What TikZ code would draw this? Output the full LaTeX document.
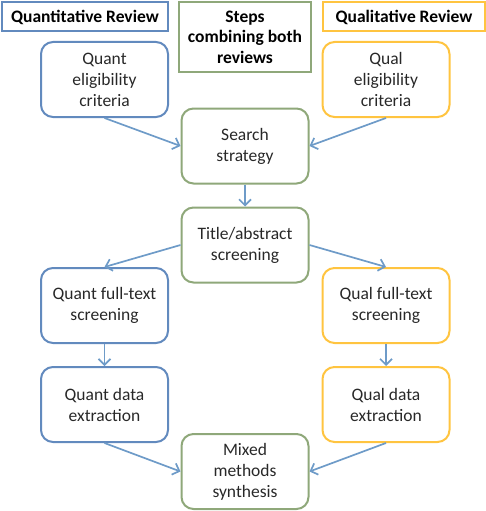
\documentclass[tikz,border=0pt]{standalone}
\usepackage{fontspec}
\setmainfont{Carlito}
\usetikzlibrary{arrows.meta}
\definecolor{qblue}{RGB}{98,138,190}
\definecolor{qgreen}{RGB}{143,168,122}
\definecolor{qgold}{RGB}{255,196,64}
\definecolor{qarrow}{RGB}{110,155,200}
\definecolor{qtext}{RGB}{40,40,40}
\tikzset{
  box/.style={draw, line width=2pt, rounded corners=12pt, minimum width=127pt, minimum height=75pt, align=center, text=qtext, font=\fontsize{17.5}{21}\selectfont, inner sep=1pt},
  hdr/.style={draw, line width=2pt, align=center, font=\fontsize{17.5}{20.5}\selectfont\bfseries, text=black, inner sep=1pt},
  conn/.style={draw=qarrow, line width=1.7pt, -{Straight Barb[length=6pt,width=12pt,line width=1.7pt]}}
}
\begin{document}
\begin{tikzpicture}[x=1pt,y=-1pt]
\useasboundingbox (0,0) rectangle (485,511);
\node[hdr, draw=qblue, minimum width=166pt, minimum height=29pt] (hq) at (85,17) {Quantitative Review};
\node[hdr, draw=qgreen, minimum width=132pt, minimum height=70pt] (hs) at (245,37) {Steps\\combining both\\reviews};
\node[hdr, draw=qgold, minimum width=162pt, minimum height=29pt] (hl) at (404,17) {Qualitative Review};
\node[box, draw=qblue] (qe) at (104.5,79.5) {Quant\\eligibility\\criteria};
\node[box, draw=qgold] (le) at (386,79.5) {Qual\\eligibility\\criteria};
\node[box, draw=qgreen] (ss) at (245,146) {Search\\strategy};
\node[box, draw=qgreen] (ta) at (245,245) {Title/abstract\\screening};
\node[box, draw=qblue] (qf) at (104.5,305.5) {Quant full-text\\screening};
\node[box, draw=qgold] (lf) at (386,305.5) {Qual full-text\\screening};
\node[box, draw=qblue] (qd) at (104.5,404.5) {Quant data\\extraction};
\node[box, draw=qgold] (ld) at (386,404.5) {Qual data\\extraction};
\node[box, draw=qgreen] (mx) at (245,471.5) {Mixed\\methods\\synthesis};
\draw[conn] (qe.south) -- (ss.west);
\draw[conn] (le.south) -- (ss.east);
\draw[conn] (ss.south) -- (ta.north);
\draw[conn] (ta.west) -- (qf.north);
\draw[conn] (ta.east) -- (lf.north);
\draw[conn] (qf.south) -- (qd.north);
\draw[conn] (lf.south) -- (ld.north);
\draw[conn] (qd.south) -- (mx.west);
\draw[conn] (ld.south) -- (mx.east);
\end{tikzpicture}
\end{document}
